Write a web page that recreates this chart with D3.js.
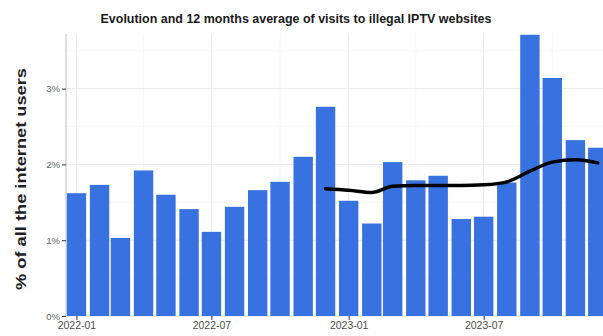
<!DOCTYPE html>
<html>
<head>
    <meta charset="UTF-8">
    <title>IPTV visits</title>
    <script src="https://d3js.org/d3.v7.min.js"></script>
    <style type="text/css">
      body{ margin:0; background-color: white; }
      svg{ display:block; background-color: white; font-family: "Liberation Sans", Arial, sans-serif; }
    </style>
</head>
<body>
    <svg id="chart"></svg>
    <script>
        // monthly share of internet users visiting illegal IPTV sites (%)
        const months = ["2022-01","2022-02","2022-03","2022-04","2022-05","2022-06",
                        "2022-07","2022-08","2022-09","2022-10","2022-11","2022-12",
                        "2023-01","2023-02","2023-03","2023-04","2023-05","2023-06",
                        "2023-07","2023-08","2023-09","2023-10","2023-11","2023-12"];
        const visits = [1.62, 1.73, 1.03, 1.92, 1.60, 1.41,
                        1.11, 1.44, 1.66, 1.77, 2.10, 2.76,
                        1.52, 1.22, 2.03, 1.79, 1.85, 1.28,
                        1.31, 1.76, 3.71, 3.14, 2.32, 2.22];

        // 12 months average
        const avgMonths = ["2022-12","2023-01","2023-02","2023-03","2023-04","2023-05",
                           "2023-06","2023-07","2023-08","2023-09","2023-10","2023-11","2023-12"];
        const avgValues = [1.68, 1.66, 1.63, 1.71, 1.72, 1.72,
                           1.72, 1.73, 1.77, 1.91, 2.03, 2.06, 2.02];

        const xTicks = ["2022-01","2022-07","2023-01","2023-07"];
        const xMinor = ["2022-04","2022-10","2023-04","2023-10"];
        const yTicks = [0, 1, 2, 3];
        const yMinor = [0.5, 1.5, 2.5, 3.5];

        const width = 603, height = 336;
        const parse = d3.timeParse("%Y-%m");

        const svg = d3.select("#chart")
          .attr("width", width)
          .attr("height", height);

        const x = d3.scaleTime()
          .domain([new Date(2021, 11, 18), new Date(2023, 11, 8)])
          .range([66, 603]);

        const y = d3.scaleLinear()
          .domain([0, 3.72])
          .range([316, 34]);

        const barDays = 26;
        const barW = x(d3.timeDay.offset(parse("2022-01"), barDays)) - x(parse("2022-01"));

        // grid
        const grid = svg.append("g");
        grid.selectAll(".ymin").data(yMinor).enter().append("line")
          .attr("x1", 66).attr("x2", 603)
          .attr("y1", d => y(d)).attr("y2", d => y(d))
          .attr("stroke", "#f4f4f4").attr("stroke-width", 0.6);
        grid.selectAll(".xmin").data(xMinor).enter().append("line")
          .attr("x1", d => x(parse(d))).attr("x2", d => x(parse(d)))
          .attr("y1", 34).attr("y2", 316)
          .attr("stroke", "#f4f4f4").attr("stroke-width", 0.6);
        grid.selectAll(".ymaj").data(yTicks).enter().append("line")
          .attr("x1", 66).attr("x2", 603)
          .attr("y1", d => y(d)).attr("y2", d => y(d))
          .attr("stroke", "#ebebeb").attr("stroke-width", 1);
        grid.selectAll(".xmaj").data(xTicks).enter().append("line")
          .attr("x1", d => x(parse(d))).attr("x2", d => x(parse(d)))
          .attr("y1", 34).attr("y2", 316)
          .attr("stroke", "#ebebeb").attr("stroke-width", 1);

        // bars
        svg.append("g").selectAll("rect")
          .data(months)
          .enter()
          .append("rect")
          .attr("x", d => x(parse(d)) - barW / 2)
          .attr("y", (d, i) => y(visits[i]))
          .attr("width", barW)
          .attr("height", (d, i) => y(0) - y(visits[i]))
          .style("fill", "#3872e0");

        // average line
        const line = d3.line()
          .x(d => x(parse(d)))
          .y((d, i) => y(avgValues[i]))
          .curve(d3.curveMonotoneX);

        svg.append("path")
          .datum(avgMonths)
          .attr("d", line)
          .attr("fill", "none")
          .attr("stroke", "black")
          .attr("stroke-width", 3.5)
          .attr("stroke-linecap", "round");

        // axes
        const yAxis = svg.append("g")
          .attr("transform", "translate(66,0)")
          .call(d3.axisLeft(y).tickValues(yTicks).tickFormat(d => d + "%").tickSize(4).tickPadding(2));
        yAxis.select(".domain").attr("stroke", "#bdbdbd").attr("d", "M0,34V316");
        yAxis.selectAll(".tick line").attr("stroke", "#333");
        yAxis.selectAll("text").attr("fill", "#666").style("font-size", "9.5px");

        const xAxis = svg.append("g")
          .attr("transform", "translate(0,316)")
          .call(d3.axisBottom(x).tickValues(xTicks.map(parse)).tickFormat(d3.timeFormat("%Y-%m")).tickSize(4).tickPadding(2));
        xAxis.select(".domain").remove();
        xAxis.selectAll(".tick line").attr("stroke", "#333");
        xAxis.selectAll("text").attr("fill", "#4d4d4d").style("font-size", "10.5px");

        // titles
        svg.append("text")
          .attr("x", 296).attr("y", 23)
          .attr("text-anchor", "middle")
          .attr("textLength", 391).attr("lengthAdjust", "spacingAndGlyphs")
          .style("font-size", "12.5px").style("font-weight", "bold")
          .attr("fill", "#1a1a1a")
          .text("Evolution and 12 months average of visits to illegal IPTV websites");

        svg.append("text")
          .attr("text-anchor", "middle")
          .attr("transform", "translate(26,179)rotate(-90)")
          .attr("textLength", 222).attr("lengthAdjust", "spacingAndGlyphs")
          .style("font-size", "15px").style("font-weight", "bold")
          .attr("fill", "#222")
          .text("% of all the internet users");
    </script>
</body>
</html>
